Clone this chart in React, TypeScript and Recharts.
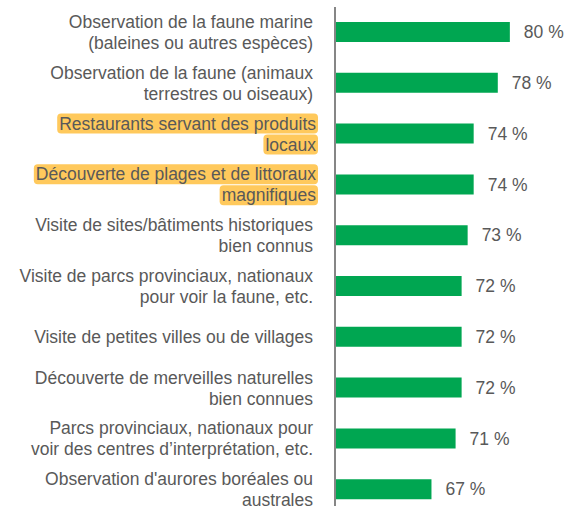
import { BarChart, Bar, XAxis, YAxis, LabelList } from 'recharts';

const categories = [
  'Observation de la faune marine\n(baleines ou autres espèces)',
  'Observation de la faune (animaux\nterrestres ou oiseaux)',
  'Restaurants servant des produits\nlocaux',
  'Découverte de plages et de littoraux\nmagnifiques',
  'Visite de sites/bâtiments historiques\nbien connus',
  'Visite de parcs provinciaux, nationaux\npour voir la faune, etc.',
  'Visite de petites villes ou de villages',
  'Découverte de merveilles naturelles\nbien connues',
  'Parcs provinciaux, nationaux pour\nvoir des centres d’interprétation, etc.',
  "Observation d'aurores boréales ou\naustrales",
];

const values = [80, 78, 74, 74, 73, 72, 72, 72, 71, 67];

const highlighted = [categories[2], categories[3]];

const FONT = '"Liberation Sans", Arial, sans-serif';
const TEXT = '#595959';
const SIZE = 17.5;

let ctx: CanvasRenderingContext2D | null = null;
function measure(s: string) {
  if (!ctx) {
    ctx = document.createElement('canvas').getContext('2d');
    if (ctx) ctx.font = `${SIZE}px ${FONT}`;
  }
  return ctx ? ctx.measureText(s).width : s.length * 8.5;
}

const data = categories.map((name, i) => ({ name, value: values[i] }));

function CategoryTick({ x, y, payload }: any) {
  const lines: string[] = payload.value.split('\n');
  const hl = highlighted.includes(payload.value);
  const right = x - 14 + (hl ? 3 : 0);
  const lineH = 21;
  const top = y - ((lines.length - 1) * lineH) / 2;
  return (
    <g>
      {hl &&
        lines.map((l, i) => {
          const w = measure(l);
          return (
            <rect
              key={'h' + i}
              x={right - w - 2}
              y={top + i * lineH - 10}
              width={w + 4}
              height={20}
              rx={4}
              fill="#FFC95C"
            />
          );
        })}
      <text textAnchor="end" fill={TEXT} fontSize={SIZE} fontFamily={FONT}>
        {lines.map((l, i) => (
          <tspan key={i} x={right} y={top + i * lineH} dy="0.35em">
            {l}
          </tspan>
        ))}
      </text>
    </g>
  );
}

export default function App() {
  return (
    <div
      style={{
        position: 'absolute',
        left: 0,
        top: 0,
        width: 567,
        height: 506,
        overflow: 'hidden',
        background: '#fff',
      }}
    >
      <BarChart
        layout="vertical"
        width={567}
        height={522}
        data={data}
        margin={{ top: 7, right: 27, bottom: 7, left: 0 }}
      >
        <XAxis type="number" hide domain={[51, 85]} />
        <YAxis
          type="category"
          dataKey="name"
          width={335}
          interval={0}
          tickLine={false}
          axisLine={{ stroke: '#868686', strokeWidth: 2 }}
          tick={<CategoryTick />}
        />
        <Bar dataKey="value" fill="#00A651" barSize={20} isAnimationActive={false}>
          <LabelList
            dataKey="value"
            position="right"
            offset={14}
            fill={TEXT}
            fontSize={17.5}
            fontFamily={FONT}
            formatter={(v: any) => `${v} %`}
          />
        </Bar>
      </BarChart>
    </div>
  );
}
